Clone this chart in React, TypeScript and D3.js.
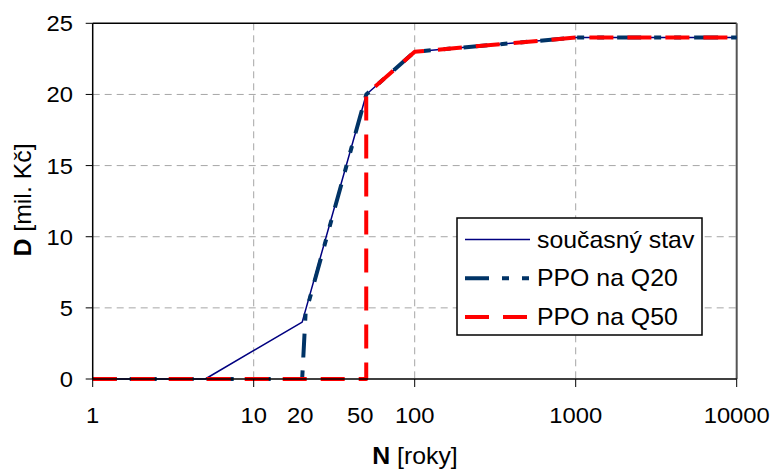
import React from "react";
import * as d3 from "d3";

const seriesNames = ["současný stav", "PPO na Q20", "PPO na Q50"];
const currentN = [1, 5, 20, 50, 100, 1000, 10000];
const currentD = [0, 0, 4, 20, 23, 24, 24];
const q20N = [1, 20, 21, 50, 100, 1000, 10000];
const q20D = [0, 0, 4.6, 20, 23, 24, 24];
const q50N = [1, 50, 50, 100, 1000, 10000];
const q50D = [0, 0, 20, 23, 24, 24];
const xTickLabels = [1, 10, 20, 50, 100, 1000, 10000];
const xTickMarks = [1, 10, 100, 1000, 10000];
const yTicks = [0, 5, 10, 15, 20, 25];

const W = 772, H = 469;
const L = 92.7, T = 23.3, R = 736.7, B = 379;
const FONT = "Arial, 'Liberation Sans', sans-serif";
const SX = 1.08;

function Txt(props: { x: number; y: number; anchor?: string; size: number; dy?: string; rotate?: number; children: React.ReactNode }) {
  const { x, y, anchor, size, dy, rotate, children } = props;
  const tr = rotate ? `translate(${x},${y}) rotate(${rotate}) scale(${SX},1)` : `translate(${x},${y}) scale(${SX},1)`;
  return (
    <text transform={tr} textAnchor={anchor || "start"} fontSize={size} dy={dy} fill="#000">{children}</text>
  );
}

export default function App() {
  const x = d3.scaleLog().domain([1, 10000]).range([L, R]);
  const y = d3.scaleLinear().domain([0, 25]).range([B, T]);
  const line = d3.line<[number, number]>().x(d => x(d[0])).y(d => y(d[1]));
  const zip = (a: number[], b: number[]) => a.map((v, i) => [v, b[i]] as [number, number]);

  const series = [
    { name: seriesNames[0], data: zip(currentN, currentD), color: "#000080", width: 1.5, dash: "none" },
    { name: seriesNames[1], data: zip(q20N, q20D), color: "#003366", width: 4, dash: "24,13,7,13,7,13" },
    { name: seriesNames[2], data: zip(q50N, q50D), color: "#FF0000", width: 4, dash: "24,14" },
  ];
  const labelDx: Record<number, number> = { 20: -2, 50: -6 };

  const lgX = 457, lgY = 218, lgW = 245, lgH = 117;

  return (
    <svg width={W} height={H} style={{ position: "absolute", left: 0, top: 0, background: "#fff" }} fontFamily={FONT}>
      {yTicks.filter(t => t > 0 && t < 25).map(t => (
        <line key={"gy" + t} x1={L} x2={R} y1={y(t)} y2={y(t)} stroke="#a6a6a6" strokeWidth={1} strokeDasharray="7,5" />
      ))}
      {xTickMarks.filter(t => t > 1 && t < 10000).map(t => (
        <line key={"gx" + t} x1={x(t)} x2={x(t)} y1={T} y2={B} stroke="#a6a6a6" strokeWidth={1} strokeDasharray="7,5" />
      ))}
      <line x1={L} x2={R} y1={T} y2={T} stroke="#000" strokeWidth={1.5} />
      <line x1={R} x2={R} y1={T} y2={B} stroke="#555" strokeWidth={2} />
      {series.map(s => (
        <path key={s.name} d={line(s.data) || ""} fill="none" stroke={s.color} strokeWidth={s.width}
          strokeDasharray={s.dash === "none" ? undefined : s.dash} strokeLinejoin="round" />
      ))}
      <line x1={L} x2={L} y1={T} y2={B} stroke="#000" strokeWidth={1.5} />
      <line x1={L} x2={R} y1={B} y2={B} stroke="#000" strokeWidth={1.5} />
      {yTicks.map(t => (
        <g key={"yt" + t}>
          <line x1={L - 7} x2={L} y1={y(t)} y2={y(t)} stroke="#000" strokeWidth={1} />
          <Txt x={73} y={y(t)} dy="0.36em" anchor="end" size={22}>{t}</Txt>
        </g>
      ))}
      {xTickMarks.map(t => (
        <line key={"xt" + t} x1={x(t)} x2={x(t)} y1={B} y2={B + 8} stroke="#000" strokeWidth={1} />
      ))}
      {xTickLabels.map(t => (
        <Txt key={"xl" + t} x={x(t) + (labelDx[t] || 0)} y={423} anchor="middle" size={22}>{t}</Txt>
      ))}
      <Txt x={415} y={464} anchor="middle" size={23}>
        <tspan fontWeight="bold">N</tspan> [roky]
      </Txt>
      <Txt x={31} y={200} anchor="middle" size={23} rotate={-90}>
        <tspan fontWeight="bold">D</tspan> [mil. Kč]
      </Txt>
      <rect x={lgX} y={lgY} width={lgW} height={lgH} fill="#fff" stroke="#000" strokeWidth={1.5} />
      {series.map((s, i) => {
        const cy = 239.5 + i * 38.7;
        return (
          <g key={"lg" + i}>
            <line x1={465} x2={530} y1={cy} y2={cy} stroke={s.color} strokeWidth={s.width}
              strokeDasharray={s.dash === "none" ? undefined : s.dash} />
            <Txt x={537} y={cy} dy="0.36em" size={23}>{s.name}</Txt>
          </g>
        );
      })}
    </svg>
  );
}
